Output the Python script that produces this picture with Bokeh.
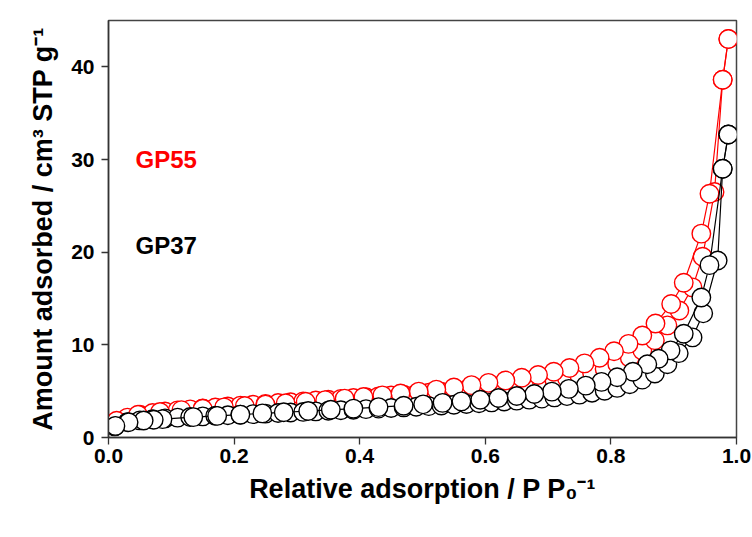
from bokeh.plotting import figure
from bokeh.models import FixedTicker, NumeralTickFormatter, ColumnDataSource, Range1d
from bokeh.core.properties import value
from bokeh.embed import file_html
from bokeh.resources import INLINE

# ---- data ----
gp55_ads_x = [0.01, 0.03, 0.05, 0.07, 0.09, 0.11, 0.13, 0.15, 0.17, 0.19,
              0.21, 0.23, 0.25, 0.27, 0.29, 0.31, 0.33, 0.35, 0.37, 0.39,
              0.41, 0.43, 0.45, 0.47, 0.49, 0.51, 0.53, 0.55, 0.57, 0.59,
              0.61, 0.63, 0.65, 0.67, 0.69, 0.71, 0.73, 0.75, 0.77, 0.79,
              0.81, 0.83, 0.85, 0.87, 0.89, 0.909, 0.93, 0.946, 0.965, 0.978, 0.987]
gp55_ads_y = [1.6, 2.15, 2.45, 2.65, 2.8, 2.93, 3.04, 3.14, 3.24, 3.34,
              3.44, 3.54, 3.63, 3.72, 3.81, 3.9, 3.99, 4.08, 4.17, 4.26,
              4.35, 4.44, 4.53, 4.63, 4.73, 4.83, 4.93, 5.04, 5.15, 5.27,
              5.4, 5.54, 5.69, 5.85, 6.02, 6.2, 6.4, 6.65, 6.95, 7.4,
              7.95, 8.6, 9.4, 10.5, 12.1, 13.7, 16.2, 19.5, 26.5, 38.6, 43.0]

gp55_des_x = [0.987, 0.978, 0.957, 0.944, 0.916, 0.896, 0.871, 0.850, 0.828, 0.805,
              0.782, 0.758, 0.734, 0.709, 0.684, 0.658, 0.632, 0.605, 0.578, 0.550,
              0.522, 0.494, 0.465, 0.436, 0.406, 0.376, 0.345, 0.314, 0.282, 0.250,
              0.217, 0.184, 0.150, 0.116, 0.082, 0.047, 0.013]
gp55_des_y = [43.0, 38.6, 26.3, 22.0, 16.7, 14.4, 12.3, 11.0, 10.1, 9.3,
              8.6, 8.0, 7.5, 7.1, 6.75, 6.45, 6.15, 5.9, 5.65, 5.4,
              5.17, 4.95, 4.75, 4.55, 4.37, 4.2, 4.03, 3.86, 3.7, 3.55,
              3.4, 3.25, 3.1, 2.95, 2.75, 2.45, 1.8]

gp37_ads_x = [0.01, 0.03, 0.05, 0.07, 0.09, 0.11, 0.13, 0.15, 0.17, 0.19,
              0.21, 0.23, 0.25, 0.27, 0.29, 0.31, 0.33, 0.35, 0.37, 0.39,
              0.41, 0.43, 0.45, 0.47, 0.49, 0.51, 0.53, 0.55, 0.57, 0.59,
              0.61, 0.63, 0.65, 0.67, 0.69, 0.71, 0.73, 0.75, 0.77, 0.79,
              0.81, 0.83, 0.85, 0.87, 0.89, 0.908, 0.93, 0.947, 0.97, 0.978, 0.987]
gp37_ads_y = [1.2, 1.65, 1.85, 1.97, 2.06, 2.14, 2.21, 2.28, 2.34, 2.4,
              2.46, 2.52, 2.58, 2.64, 2.7, 2.76, 2.82, 2.88, 2.94, 3.0,
              3.06, 3.12, 3.18, 3.25, 3.32, 3.39, 3.46, 3.54, 3.62, 3.7,
              3.79, 3.88, 3.98, 4.09, 4.2, 4.33, 4.47, 4.63, 4.82, 5.05,
              5.35, 5.75, 6.25, 6.9, 7.9, 9.1, 10.8, 13.4, 19.1, 29.0, 32.7]

gp37_des_x = [0.987, 0.978, 0.957, 0.944, 0.916, 0.895, 0.876, 0.858, 0.835, 0.810,
              0.785, 0.760, 0.733, 0.706, 0.678, 0.650, 0.621, 0.592, 0.562, 0.532,
              0.501, 0.470, 0.430, 0.390, 0.354, 0.318, 0.279, 0.245, 0.210, 0.173,
              0.135, 0.086, 0.072, 0.056, 0.032, 0.011]
gp37_des_y = [32.7, 29.0, 18.6, 15.1, 11.2, 9.4, 8.5, 7.9, 7.1, 6.5,
              6.0, 5.6, 5.25, 4.95, 4.7, 4.48, 4.27, 4.08, 3.9, 3.74,
              3.58, 3.43, 3.28, 3.12, 2.99, 2.86, 2.72, 2.6, 2.47, 2.33,
              2.2, 1.98, 1.92, 1.84, 1.65, 1.25]

x_ticks = [0.0, 0.2, 0.4, 0.6, 0.8, 1.0]
y_ticks = [0, 10, 20, 30, 40]
labels = ["GP55", "GP37"]
label_x = [0.043, 0.043]
label_y = [30.0, 20.7]
label_colors = ["#ff0000", "#000000"]

FONT = "Liberation Sans"

p = figure(width=752, height=537, output_backend="svg", toolbar_location=None,
           x_range=Range1d(0, 1.0), y_range=Range1d(0, 45))
p.min_border_left = 108
p.min_border_right = 16
p.min_border_top = 20
p.min_border_bottom = 100
p.grid.visible = False
p.outline_line_color = "#444444"
p.outline_line_width = 1.5
p.background_fill_color = "white"
p.border_fill_color = "white"

series = [
    (gp55_ads_x, gp55_ads_y, "#ff0000"),
    (gp55_des_x, gp55_des_y, "#ff0000"),
    (gp37_ads_x, gp37_ads_y, "#000000"),
    (gp37_des_x, gp37_des_y, "#000000"),
]
for xs, ys, col in series:
    src = ColumnDataSource(dict(x=xs, y=ys))
    p.line("x", "y", source=src, line_color=col, line_width=1.2)
    p.scatter("x", "y", source=src, marker="circle", size=18.5,
              fill_color="white", line_color=col, line_width=1.4)

p.text(x=label_x, y=label_y, text=labels, text_color=label_colors,
       text_font=value(FONT), text_font_style="bold", text_font_size="24px",
       text_align="left", text_baseline="middle")

for ax in (p.xaxis[0], p.yaxis[0]):
    ax.axis_line_color = "#333333"
    ax.axis_line_width = 1.5
    ax.major_tick_line_color = "#333333"
    ax.major_tick_line_width = 1.3
    ax.major_tick_in = 0
    ax.major_tick_out = 7
    ax.minor_tick_line_color = None
    ax.major_label_text_font = FONT
    ax.major_label_text_font_style = "bold"
    ax.major_label_text_font_size = "21px"
    ax.major_label_text_color = "black"
    ax.axis_label_text_font = FONT
    ax.axis_label_text_font_style = "bold"
    ax.axis_label_text_font_size = "27px"
    ax.axis_label_text_color = "black"

p.xaxis.ticker = FixedTicker(ticks=x_ticks)
p.xaxis.formatter = NumeralTickFormatter(format="0.0")
p.yaxis.ticker = FixedTicker(ticks=y_ticks)
p.xaxis.major_label_standoff = 4
p.yaxis.major_label_standoff = 7
p.xaxis.axis_label = "Relative adsorption / P P\u2080\u207b\u00b9"
p.yaxis.axis_label = "Amount adsorbed / cm\u00b3 STP g\u207b\u00b9"
p.xaxis.axis_label_standoff = 8
p.yaxis.axis_label_standoff = 10

open("out.html", "w").write(file_html(p, INLINE))
